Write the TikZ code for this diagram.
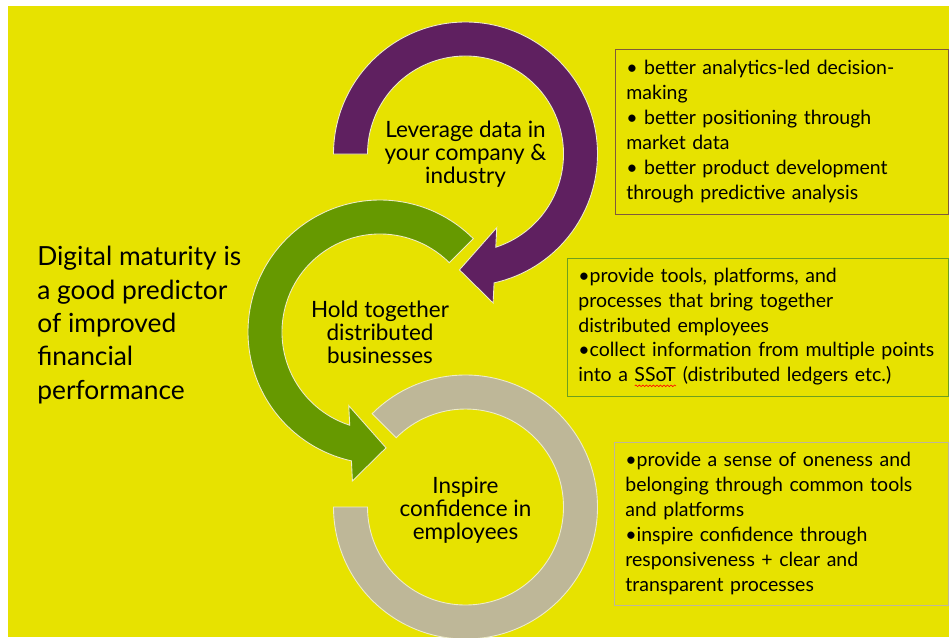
\documentclass[tikz,border=0pt]{standalone}
\usepackage{fontspec}
\setmainfont{Lato}
\usetikzlibrary{calc}
\usetikzlibrary{decorations.pathmorphing}
\definecolor{bgyel}{RGB}{231,226,0}
\definecolor{lev}{RGB}{95,32,96}
\definecolor{hold}{RGB}{102,153,0}
\definecolor{insp}{RGB}{190,183,152}
\definecolor{levline}{RGB}{128,90,60}
\definecolor{holdline}{RGB}{110,160,30}
\definecolor{ringedge}{RGB}{238,236,200}
\tikzset{
    ring/.style={draw=ringedge, line width=0.5pt},
    steplabel/.style={align=center, font=\fontsize{12.8}{13.1}\selectfont},
    infobox/.style={draw, anchor=north west, align=left, inner xsep=0.22cm,
        font=\fontsize{11.1}{14.2}\selectfont}
}
\newcommand\squig[1]{\sbox0{#1}\rlap{\usebox0}\tikz[baseline=0pt]
    \draw[red, line width=0.35pt, decorate, decoration={snake, amplitude=0.45pt, segment length=2pt}]
    (0pt,-2.2pt) -- (\wd0,-2.2pt);}

\begin{document}
\begin{tikzpicture}[x=0.02cm, y=0.02cm]
	\useasboundingbox (0,0) rectangle (949,-637);
	\fill[white] (0,0) rectangle (949,-637);
	\fill[bgyel] (8,-6) rectangle (949,-637);
	
	\coordinate (P) at (465.5,-154);
	\coordinate (G) at (380,-332);
	\coordinate (B) at (465.5,-507);
	
	\filldraw[ring, fill=insp] ($(B)+(135:132)$) arc[start angle=135, end angle=-180, radius=132]
		-- ($(B)+(180:98)$) arc[start angle=-180, end angle=135, radius=98] -- cycle;
	\filldraw[ring, fill=hold] ($(G)+(45:132)$) arc[start angle=45, end angle=257.5, radius=132]
		-- ($(G)+(259.5:151.5)$) -- ($(G)+(273:116)$) -- ($(G)+(247:80)$)
		-- ($(G)+(252:98)$) arc[start angle=252, end angle=45, radius=98] -- cycle;
	\filldraw[ring, fill=lev] ($(P)+(180:132)$) arc[start angle=180, end angle=-77.5, radius=132]
		-- ($(P)+(-79.5:151.5)$) -- ($(P)+(-93:116)$) -- ($(P)+(-67:80)$)
		-- ($(P)+(-72:98)$) arc[start angle=-72, end angle=180, radius=98] -- cycle;
	
	\node[steplabel] (levtext) at (P) {Leverage data in\\your company \&\\industry};
	\node[steplabel] (holdtext) at (G) {Hold together\\distributed\\businesses};
	\node[steplabel] (insptext) at ($(B)+(0,-3)$) {Inspire\\confidence in\\employees};
	
	\node[anchor=west, align=left, inner sep=0pt, font=\fontsize{15}{19}\selectfont] (claim) at (37,-325)
		{Digital maturity is\\a good predictor\\of improved\\financial\\performance};
	
	\node[infobox, draw=levline, text width=6.22cm, minimum height=3.3cm] (levbox) at (615,-49)
		{• better analytics-led decision-\\making\\• better positioning through\\market data\\• better product development\\through predictive analysis};
	\node[infobox, draw=holdline, text width=7.18cm, minimum height=2.76cm] (holdbox) at (567,-258)
		{•provide tools, platforms, and\\processes that bring together\\distributed employees\\•collect information from multiple points\\into a \squig{SSoT} (distributed ledgers etc.)};
	\node[infobox, draw=insp, text width=6.24cm, minimum height=3.26cm] (inspbox) at (614,-442)
		{•provide a sense of oneness and\\belonging through common tools\\and platforms\\•inspire confidence through\\responsiveness + clear and\\transparent processes};
\end{tikzpicture}
\end{document}
